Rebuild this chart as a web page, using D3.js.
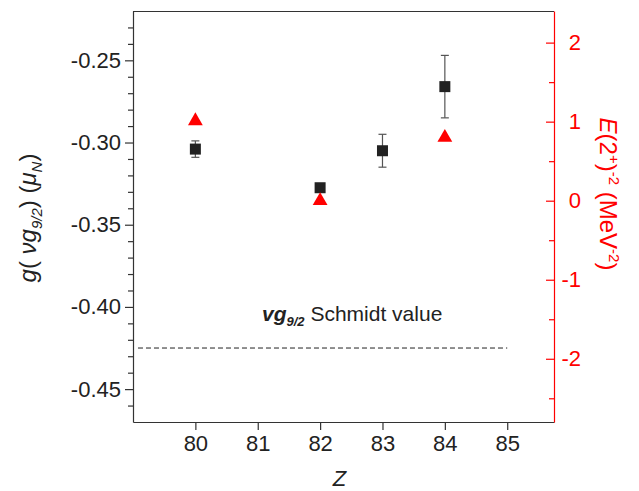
<!DOCTYPE html>
<html><head><meta charset="utf-8">
<script src="https://cdn.jsdelivr.net/npm/d3@7"></script>
<style>body{margin:0;background:#fff}svg{display:block}text{font-family:"Liberation Sans",Arial,sans-serif}</style>
</head><body>
<script>
const zValues = [80, 82, 83, 84];
const gValues = [-0.304, -0.3275, -0.305, -0.266];
const gErrors = [0.005, 0, 0.010, 0.019];
const eZ = [80, 82, 84];
const eValues = [1.01, 0.0, 0.80];
const xTicks = [80, 81, 82, 83, 84, 85];
const leftTicks = [-0.45, -0.40, -0.35, -0.30, -0.25];
const leftMinor = [-0.46,-0.44,-0.43,-0.42,-0.41,-0.39,-0.38,-0.37,-0.36,-0.34,-0.33,-0.32,-0.31,-0.29,-0.28,-0.27,-0.26,-0.24,-0.23];
const rightTicks = [-2, -1, 0, 1, 2];
const rightMinor = [-2.5, -1.5, -0.5, 0.5, 1.5];
const schmidtValue = -0.425;
const schmidtRange = [79.08, 85];

const W = 639, H = 491;
const L = 133, R = 554, T = 11, B = 422;
const svg = d3.select("body").append("svg").attr("width", W).attr("height", H);

const x = d3.scaleLinear().domain([79, 85.75]).range([L, R]);
const yL = d3.scaleLinear().domain([-0.47, -0.22]).range([B, T]);
const yR = d3.scaleLinear().domain([-2.8, 2.4]).range([B, T]);
const red = "#ff0000";
const tickFont = 22;

// top border
svg.append("line").attr("x1", L).attr("x2", R).attr("y1", T + 0.5).attr("y2", T + 0.5).attr("stroke", "#333").attr("stroke-width", 1.2);

// bottom axis
const gx = svg.append("g").attr("transform", `translate(0,${B})`)
  .call(d3.axisBottom(x).tickValues(xTicks).tickFormat(d3.format("d")).tickSize(8).tickPadding(5).tickSizeOuter(0));
gx.selectAll("text").attr("font-size", tickFont).attr("fill", "#222");
gx.selectAll("line,path").attr("stroke", "#333").attr("stroke-width", 1.2);

// left axis
const gy = svg.append("g").attr("transform", `translate(${L},0)`)
  .call(d3.axisLeft(yL).tickValues(leftTicks).tickFormat(d3.format(".2f")).tickSize(8).tickPadding(4).tickSizeOuter(0));
gy.selectAll("text").attr("font-size", tickFont).attr("fill", "#222").text(d => d3.format(".2f")(d).replace("−", "-"));
gy.selectAll("line,path").attr("stroke", "#333").attr("stroke-width", 1.2);
svg.append("g").attr("transform", `translate(${L},0)`)
  .call(d3.axisLeft(yL).tickValues(leftMinor).tickFormat("").tickSize(5).tickSizeOuter(0))
  .call(g => g.select("path").remove())
  .selectAll("line").attr("stroke", "#333").attr("stroke-width", 1.2);

// right axis (ticks inward)
const gr = svg.append("g").attr("transform", `translate(${R},0)`)
  .call(d3.axisLeft(yR).tickValues(rightTicks).tickFormat(d => String(d)).tickSize(8).tickSizeOuter(0));
gr.selectAll("line,path").attr("stroke", red).attr("stroke-width", 1.2);
gr.selectAll("text").attr("font-size", tickFont).attr("fill", red).attr("text-anchor", "end").attr("x", 27);
svg.append("g").attr("transform", `translate(${R},0)`)
  .call(d3.axisLeft(yR).tickValues(rightMinor).tickFormat("").tickSize(5).tickSizeOuter(0))
  .call(g => g.select("path").remove())
  .selectAll("line").attr("stroke", red).attr("stroke-width", 1.2);

// Schmidt dashed line
svg.append("line").attr("x1", x(schmidtRange[0])).attr("x2", x(schmidtRange[1]))
  .attr("y1", yL(schmidtValue)).attr("y2", yL(schmidtValue))
  .attr("stroke", "#222").attr("stroke-width", 1).attr("stroke-dasharray", "5,3");

const st = svg.append("text").attr("x", 262).attr("y", 321).attr("font-size", 21).attr("fill", "#222");
st.append("tspan").attr("font-weight", "bold").attr("font-style", "italic").text("vg");
st.append("tspan").attr("font-weight", "bold").attr("font-style", "italic").attr("font-size", 13).attr("dy", 5).text("9/2");
st.append("tspan").attr("dy", -5).text(" Schmidt value");

// error bars
const eb = svg.append("g").attr("stroke", "#555").attr("stroke-width", 1.2);
zValues.forEach((z, i) => {
  if (gErrors[i] <= 0) return;
  const cx = x(z), y1 = yL(gValues[i] + gErrors[i]), y2 = yL(gValues[i] - gErrors[i]);
  eb.append("line").attr("x1", cx).attr("x2", cx).attr("y1", y1).attr("y2", y2);
  eb.append("line").attr("x1", cx - 4).attr("x2", cx + 4).attr("y1", y1).attr("y2", y1);
  eb.append("line").attr("x1", cx - 4).attr("x2", cx + 4).attr("y1", y2).attr("y2", y2);
});

// squares
svg.append("g").selectAll("rect").data(zValues).join("rect")
  .attr("x", d => x(d) - 5.5).attr("y", (d, i) => yL(gValues[i]) - 5.5)
  .attr("width", 11).attr("height", 11).attr("fill", "#222");

// triangles
const tri = d3.symbol().type(d3.symbolTriangle).size(95);
svg.append("g").selectAll("path").data(eZ).join("path")
  .attr("d", tri).attr("fill", red)
  .attr("transform", (d, i) => `translate(${x(d)},${yR(eValues[i])})`);

// axis titles
const ly = svg.append("text").attr("transform", "translate(36,218) rotate(-90)").attr("text-anchor", "middle").attr("font-size", 24).attr("fill", "#222");
ly.append("tspan").attr("font-style", "italic").text("g");
ly.append("tspan").text("( ");
ly.append("tspan").attr("font-style", "italic").text("νg");
ly.append("tspan").attr("font-style", "italic").attr("font-size", 15).attr("dy", 6).text("9/2");
ly.append("tspan").attr("dy", -6).text(") (");
ly.append("tspan").attr("font-style", "italic").text("μ");
ly.append("tspan").attr("font-style", "italic").attr("font-size", 15).attr("dy", 6).text("N");
ly.append("tspan").attr("dy", -6).text(")");

const ry = svg.append("text").attr("transform", "translate(600,194) rotate(90)").attr("text-anchor", "middle").attr("font-size", 24).attr("fill", red);
ry.append("tspan").attr("font-style", "italic").text("E");
ry.append("tspan").text("(2");
ry.append("tspan").attr("font-size", 15).attr("dy", -9).text("+");
ry.append("tspan").attr("dy", 9).text(")");
ry.append("tspan").attr("font-size", 15).attr("dy", -9).text("-2");
ry.append("tspan").attr("dy", 9).text(" (MeV");
ry.append("tspan").attr("font-size", 15).attr("dy", -9).text("-2");
ry.append("tspan").attr("dy", 9).text(")");

svg.append("text").attr("x", (L + R) / 2 - 4).attr("y", 486).attr("text-anchor", "middle")
  .attr("font-size", 22).attr("font-style", "italic").attr("fill", "#222").text("Z");
</script>
</body></html>
